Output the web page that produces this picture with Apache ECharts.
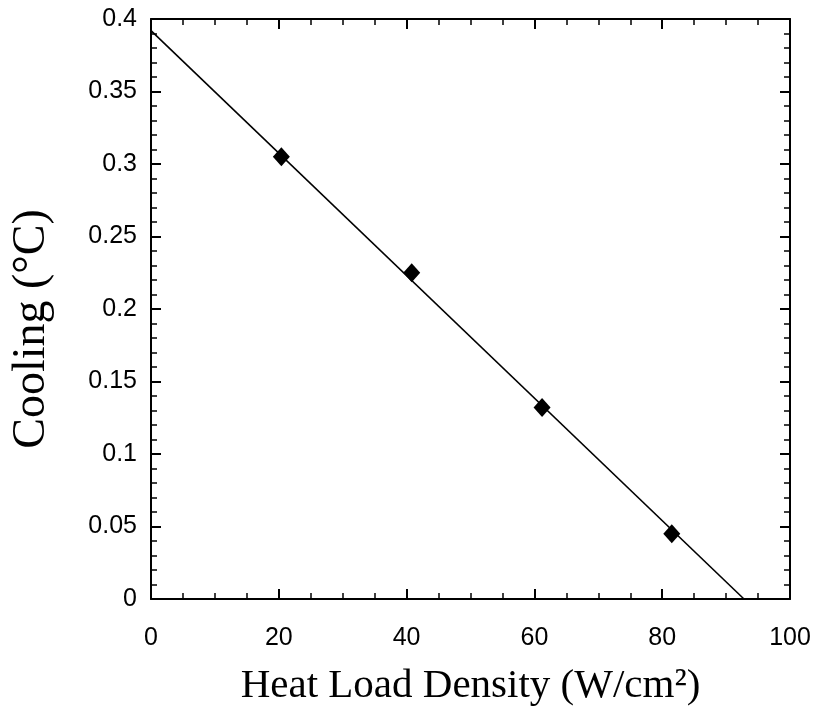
<!DOCTYPE html>
<html>
<head>
<meta charset="utf-8">
<script src="https://cdn.jsdelivr.net/npm/echarts@6/dist/echarts.min.js"></script>
<style>html,body{margin:0;padding:0;background:#fff}#c{width:817px;height:715px}</style>
</head>
<body>
<div id="c"></div>
<script>
// Data
var heatLoad = [20.4, 40.8, 61.2, 81.5];
var cooling = [0.305, 0.225, 0.132, 0.045];
var fitX = [0, 92.8];
var fitY = [0.392, 0];
var xTicks = [0, 20, 40, 60, 80, 100];
var yTicks = [0, 0.05, 0.1, 0.15, 0.2, 0.25, 0.3, 0.35, 0.4];

var chart = echarts.init(document.getElementById('c'));
var axisLine = {show: true, onZero: false, lineStyle: {color: '#000', width: 2}};
var tickMajor = {show: true, inside: true, length: 10, lineStyle: {color: '#000', width: 2}};
var tickMinor = function(n){return {show: true, splitNumber: n, length: 6, lineStyle: {color: '#000', width: 1.5}};};
var lblFont = {fontFamily: 'Liberation Sans, Arial, sans-serif', fontSize: 25, color: '#000'};
var serif = 'Liberation Serif, Times New Roman, serif';

chart.setOption({
  backgroundColor: '#fff',
  animation: false,
  grid: {left: 151, top: 19, right: 27, bottom: 116, containLabel: false, outerBoundsMode: 'none'},
  xAxis: [{
    type: 'value', min: xTicks[0], max: xTicks[xTicks.length-1], interval: 20,
    position: 'bottom',
    axisLine: axisLine, axisTick: tickMajor, minorTick: tickMinor(4),
    splitLine: {show: false},
    axisLabel: Object.assign({margin: 27}, lblFont),
    name: 'Heat Load Density (W/cm²)',
    nameLocation: 'middle', nameGap: 67,
    nameTextStyle: {fontFamily: serif, fontSize: 41, color: '#000'}
  }, {
    type: 'value', min: xTicks[0], max: xTicks[xTicks.length-1], interval: 20,
    position: 'top',
    axisLine: axisLine, axisTick: tickMajor, minorTick: tickMinor(4),
    splitLine: {show: false}, axisLabel: {show: false}
  }],
  yAxis: [{
    type: 'value', min: yTicks[0], max: yTicks[yTicks.length-1], interval: 0.05,
    position: 'left',
    axisLine: axisLine, axisTick: tickMajor, minorTick: tickMinor(5),
    splitLine: {show: false},
    axisLabel: Object.assign({margin: 14}, lblFont),
    name: 'Cooling (°C)', nameLocation: 'middle', nameGap: 96, nameRotate: 90,
    nameTextStyle: {fontFamily: serif, fontSize: 46, color: '#000', padding: [0, 40, 0, 0]}
  }, {
    type: 'value', min: yTicks[0], max: yTicks[yTicks.length-1], interval: 0.05,
    position: 'right',
    axisLine: axisLine, axisTick: tickMajor, minorTick: tickMinor(5),
    splitLine: {show: false}, axisLabel: {show: false}
  }],
  series: [{
    type: 'line',
    data: fitX.map(function(x, i){return [x, fitY[i]];}),
    showSymbol: false, symbol: 'none',
    lineStyle: {color: '#000', width: 1.6},
    z: 2
  }, {
    type: 'scatter',
    data: heatLoad.map(function(x, i){return [x, cooling[i]];}),
    symbol: 'diamond', symbolSize: [17, 19],
    itemStyle: {color: '#000', opacity: 1},
    z: 3
  }]
});
</script>
</body>
</html>
